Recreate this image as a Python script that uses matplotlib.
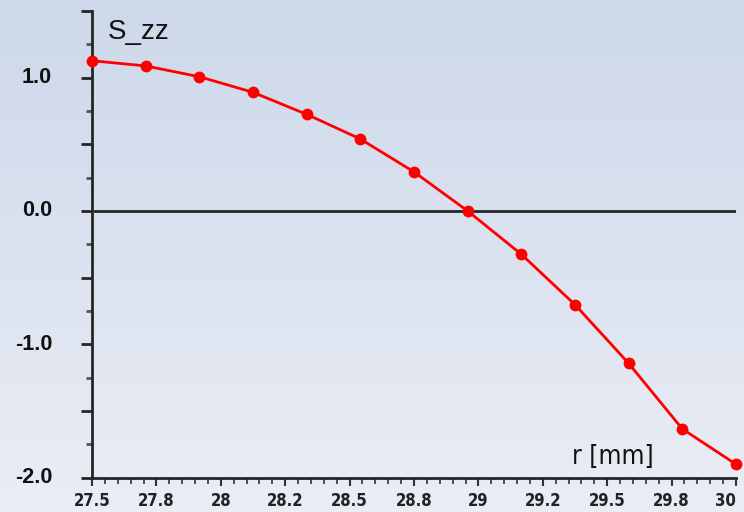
import numpy as np
import matplotlib
matplotlib.use("Agg")
import matplotlib.pyplot as plt
from matplotlib.ticker import MultipleLocator, FixedLocator

# stress profile across the wall
r_mm = [27.5, 27.7083, 27.9167, 28.125, 28.3333, 28.5417, 28.75,
        28.9583, 29.1667, 29.375, 29.5833, 29.7917, 30.0]
s_zz = [1.127, 1.088, 1.007, 0.890, 0.725, 0.540, 0.293,
        0.0, -0.325, -0.703, -1.143, -1.635, -1.900]

x_ticks = [27.5, 27.75, 28.0, 28.25, 28.5, 28.75, 29.0, 29.25, 29.5, 29.75, 30.0]
x_tick_labels = ["27.5", "27.8", "28", "28.2", "28.5", "28.8",
                 "29", "29.2", "29.5", "29.8", "30"]
y_labels = [1.0, 0.0, -1.0, -2.0]

fig = plt.figure(figsize=(7.44, 5.12), dpi=100)

# soft vertical gradient behind everything
bg = fig.add_axes([0, 0, 1, 1], zorder=-1)
top = np.array([205, 216, 234]) / 255
bot = np.array([234, 237, 245]) / 255
t = np.linspace(0, 1, 256)[:, None, None]
grad = top * (1 - t) + bot * t
bg.imshow(np.repeat(grad, 2, axis=1), aspect="auto", extent=[0, 1, 0, 1])
bg.axis("off")

ax = fig.add_axes([92 / 744, 34.4 / 512, 644 / 744, 466.6 / 512])
ax.patch.set_alpha(0)

ax.axhline(0, xmin=0.005, color="#252525", lw=2, zorder=2)
ax.plot(r_mm, s_zz, color="#ff0000", lw=2, marker="o", markersize=8.5,
        markeredgewidth=0, zorder=3, clip_on=False)

ax.set_xlim(27.5, 30.0)
ax.set_ylim(-2.0, 1.5)

for side in ["top", "right"]:
    ax.spines[side].set_visible(False)
for side in ["left", "bottom"]:
    ax.spines[side].set_color("#252525")
    ax.spines[side].set_linewidth(2)

# y axis: long ticks every 0.5, short grey ones in between, labels at integers
ax.yaxis.set_major_locator(MultipleLocator(0.5))
ax.yaxis.set_minor_locator(MultipleLocator(0.25))
ax.set_yticklabels([])
ax.tick_params(axis="y", which="major", length=8, width=2, color="#252525",
               direction="out")
ax.tick_params(axis="y", which="minor", length=4.5, width=2, color="#555555",
               direction="out")
for v in y_labels:
    ax.text(-0.062, (v + 2.0) / 3.5, f"{v:.1f}", transform=ax.transAxes,
            ha="right", va="center", fontsize=15.5, fontweight="bold",
            family=["Liberation Sans", "DejaVu Sans"], color="#111111")

# x axis: ticks every 0.25 with fine minor ticks
ax.xaxis.set_major_locator(FixedLocator(x_ticks))
ax.xaxis.set_minor_locator(MultipleLocator(0.05))
ax.set_xticklabels(x_tick_labels)
ax.tick_params(axis="x", which="major", length=5.5, width=1.5, color="#333333",
               direction="out", pad=5, labelsize=12, labelcolor="#222222")
ax.tick_params(axis="x", which="minor", length=4, width=1.2, color="#333333",
               direction="out")
for lbl in ax.get_xticklabels():
    lbl.set_family("DejaVu Sans")
    lbl.set_fontstretch("condensed")
    lbl.set_fontweight("bold")
ax.get_xticklabels()[-1].set_horizontalalignment("right")
ax.get_xticklabels()[-1].set_x(30.0)

ax.text(0.025, 0.955, "S_zz", transform=ax.transAxes, fontsize=20,
        family=["Liberation Sans", "DejaVu Sans"], color="#111111",
        ha="left", va="center")
ax.text(0.809, 0.045, "r [mm]", transform=ax.transAxes, fontsize=19,
        family="DejaVu Sans", stretch="condensed", color="#111111",
        ha="center", va="center")

fig.savefig("out.png", dpi=100)
